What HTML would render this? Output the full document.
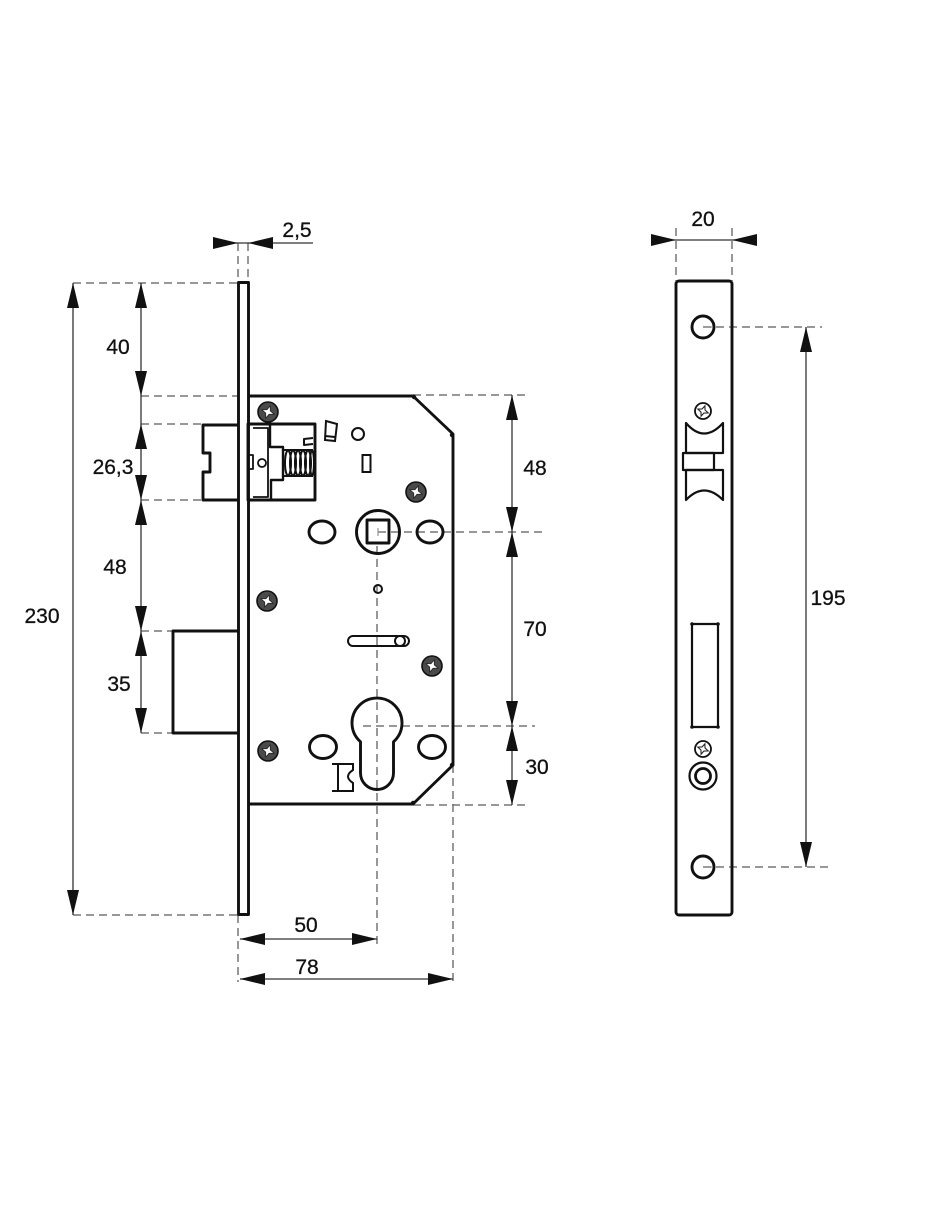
<!DOCTYPE html>
<html>
<head>
<meta charset="utf-8">
<style>
html,body{margin:0;padding:0;background:#fff;}
svg{display:block;}
text{font-family:"Liberation Sans","DejaVu Sans",sans-serif;font-size:21px;fill:#111;stroke:#111;stroke-width:0.3;}
</style>
</head>
<body>
<svg width="940" height="1214" viewBox="0 0 940 1214" xmlns="http://www.w3.org/2000/svg">
<defs>
  <g id="scr">
    <circle r="10" fill="#4a4a4a" stroke="#111" stroke-width="1.6"/>
    <path d="M0,-6.5 L1.8,-1.8 L6.5,0 L1.8,1.8 L0,6.5 L-1.8,1.8 L-6.5,0 L-1.8,-1.8 Z" fill="#fff" stroke="#222" stroke-width="0.8" transform="rotate(20)"/>
  </g>
  <g id="scr2">
    <circle r="8" fill="#fff" stroke="#111" stroke-width="1.8"/>
    <path d="M0,-5.5 L1.6,-1.6 L5.5,0 L1.6,1.6 L0,5.5 L-1.6,1.6 L-5.5,0 L-1.6,-1.6 Z" fill="#fff" stroke="#222" stroke-width="1.1" transform="rotate(20)"/>
  </g>
</defs>

<!-- dashed extension lines -->
<g stroke="#777" stroke-width="1.5" stroke-dasharray="8,5" fill="none">
  <line x1="73" y1="283" x2="238" y2="283"/>
  <line x1="141" y1="396" x2="238" y2="396"/>
  <line x1="141" y1="424" x2="203" y2="424"/>
  <line x1="141" y1="500" x2="203" y2="500"/>
  <line x1="141" y1="631" x2="173" y2="631"/>
  <line x1="141" y1="733" x2="173" y2="733"/>
  <line x1="73" y1="915" x2="238" y2="915"/>
  <line x1="238" y1="243" x2="238" y2="283"/>
  <line x1="248" y1="243" x2="248" y2="283"/>
  <line x1="238" y1="915" x2="238" y2="982"/>
  <line x1="413" y1="395" x2="527" y2="395"/>
  <line x1="378" y1="532" x2="543" y2="532"/>
  <line x1="363" y1="726" x2="535" y2="726"/>
  <line x1="413" y1="805" x2="527" y2="805"/>
  <line x1="377" y1="546" x2="377" y2="946"/>
  <line x1="453" y1="765" x2="453" y2="982"/>
  <line x1="676" y1="228" x2="676" y2="281"/>
  <line x1="732" y1="228" x2="732" y2="281"/>
  <line x1="703" y1="327" x2="822" y2="327"/>
  <line x1="703" y1="867" x2="830" y2="867"/>
</g>

<!-- dimension lines -->
<g stroke="#333" stroke-width="1.3" fill="none">
  <line x1="213" y1="243" x2="313" y2="243"/>
  <line x1="73" y1="283" x2="73" y2="915"/>
  <line x1="141" y1="283" x2="141" y2="733"/>
  <line x1="512" y1="395" x2="512" y2="805"/>
  <line x1="240" y1="939" x2="377" y2="939"/>
  <line x1="240" y1="979" x2="453" y2="979"/>
  <line x1="652" y1="240" x2="757" y2="240"/>
  <line x1="806" y1="327" x2="806" y2="867"/>
</g>

<!-- arrowheads -->
<g fill="#111">
  <polygon points="238,243 213,237 213,249"/>
  <polygon points="248,243 273,237 273,249"/>
  <polygon points="73,283 67,308 79,308"/>
  <polygon points="73,915 67,890 79,890"/>
  <polygon points="141,283 135,308 147,308"/>
  <polygon points="141,396 135,371 147,371"/>
  <polygon points="141,424 135,449 147,449"/>
  <polygon points="141,500 135,475 147,475"/>
  <polygon points="141,500 135,525 147,525"/>
  <polygon points="141,631 135,606 147,606"/>
  <polygon points="141,631 135,656 147,656"/>
  <polygon points="141,733 135,708 147,708"/>
  <polygon points="512,395 506,420 518,420"/>
  <polygon points="512,532 506,507 518,507"/>
  <polygon points="512,532 506,557 518,557"/>
  <polygon points="512,726 506,701 518,701"/>
  <polygon points="512,726 506,751 518,751"/>
  <polygon points="512,805 506,780 518,780"/>
  <polygon points="240,939 265,933 265,945"/>
  <polygon points="377,939 352,933 352,945"/>
  <polygon points="240,979 265,973 265,985"/>
  <polygon points="453,979 428,973 428,985"/>
  <polygon points="676,240 651,234 651,246"/>
  <polygon points="732,240 757,234 757,246"/>
  <polygon points="806,327 800,352 812,352"/>
  <polygon points="806,867 800,842 812,842"/>
</g>

<!-- labels -->
<g text-anchor="middle">
  <text x="297" y="237">2,5</text>
  <text x="703" y="226">20</text>
  <text x="118" y="354">40</text>
  <text x="113" y="474">26,3</text>
  <text x="115" y="574">48</text>
  <text x="42" y="623">230</text>
  <text x="119" y="691">35</text>
  <text x="535" y="475">48</text>
  <text x="535" y="636">70</text>
  <text x="537" y="774">30</text>
  <text x="828" y="605">195</text>
  <text x="306" y="932">50</text>
  <text x="307" y="974">78</text>
</g>

<!-- LEFT LOCK -->
<g stroke="#111" stroke-width="2.9" fill="none" stroke-linejoin="round">
  <rect x="238.5" y="282.5" width="10" height="632" fill="#fff"/>
  <path d="M248,396 L413,396 L453,434 L453,765 L413,804 L248,804"/>
  <path d="M238,631 L173,631 L173,733 L238,733"/>
  <path d="M238,425 L203,425 L203,453 L210,453 L210,472 L203,472 L203,500 L238,500"/>
  <rect x="248" y="424" width="67" height="76"/>
  <path d="M270,424 L270,447 L283,447 L283,480 L271,480 L271,500" stroke-width="2.4"/>
  <path d="M253,428 L268,428 L268,497 L253,497" stroke-width="1.8"/>
  <path d="M313,438 L304,439 L304,445 L313,444" stroke-width="2"/>
  <rect x="248" y="455" width="5" height="14" stroke-width="1.8"/>
  <circle cx="262" cy="463" r="4" stroke-width="1.8"/>
  <circle cx="378" cy="532" r="21.5"/>
  <rect x="367" y="520" width="22" height="23"/>
  <ellipse cx="322" cy="532" rx="13" ry="11"/>
  <ellipse cx="430" cy="532" rx="13" ry="11"/>
  <ellipse cx="323" cy="747" rx="13.5" ry="11.5"/>
  <ellipse cx="432" cy="747" rx="13.5" ry="11.5"/>
  <path d="M360.5,741.8 A25,25 0 1,1 393.5,741.8 L393.5,773 A16.5,16.5 0 0,1 360.5,773 Z"/>
</g>
<g stroke="#111" stroke-width="2" fill="none">
  <line x1="284" y1="450" x2="313" y2="450"/>
  <line x1="284" y1="476" x2="313" y2="476"/>
  <ellipse cx="288" cy="463" rx="3" ry="12.5"/>
  <ellipse cx="293" cy="463" rx="3" ry="12.5"/>
  <ellipse cx="298" cy="463" rx="3" ry="12.5"/>
  <ellipse cx="303" cy="463" rx="3" ry="12.5"/>
  <ellipse cx="308" cy="463" rx="3" ry="12.5"/>
  <ellipse cx="312" cy="463" rx="2" ry="12.5"/>
  <path d="M326,421 L337,424 L335,441 L325,440 Z"/>
  <line x1="325" y1="436" x2="335" y2="437"/>
  <circle cx="358" cy="434" r="6"/>
  <rect x="362.5" y="455" width="8" height="17"/>
  <circle cx="378" cy="589" r="4"/>
  <path d="M353,636 L404,636 A5,5 0 0,1 404,646 L353,646 A5,5 0 0,1 353,636 Z"/>
  <circle cx="400" cy="641" r="5"/>
  <path d="M332,764 L353,764 L353,770 Q343,776.5 353,783 L353,791 L332,791"/>
  <line x1="338" y1="764" x2="338" y2="791"/>
</g>
<g fill="#111">
  <circle cx="414" cy="397" r="2.2"/>
  <circle cx="452" cy="435" r="2.2"/>
  <circle cx="452" cy="765" r="2.2"/>
  <circle cx="413" cy="803" r="2.2"/>
</g>
<g stroke="#808080" stroke-width="1">
  <line x1="378" y1="528" x2="378" y2="536"/>
  <line x1="378" y1="532" x2="383" y2="532"/>
</g>
<use href="#scr" x="268" y="412"/>
<use href="#scr" x="416" y="492"/>
<use href="#scr" x="267" y="601"/>
<use href="#scr" x="432" y="666"/>
<use href="#scr" x="268" y="751"/>

<!-- RIGHT FACEPLATE -->
<g stroke="#111" stroke-width="2.9" fill="none" stroke-linejoin="round">
  <rect x="676" y="281" width="56" height="634" rx="3"/>
  <circle cx="703" cy="327" r="11"/>
  <circle cx="703" cy="867" r="11"/>
</g>
<g stroke="#111" stroke-width="2.2" fill="none" stroke-linejoin="round">
  <path d="M686,423 Q704,444 723,423 L723,453 L686,453 Z"/>
  <path d="M683,453 L714,453 L714,470 L683,470 Z"/>
  <path d="M686,470 L723,470 L723,500 Q704,481 686,500 Z"/>
  <path d="M692,624 L718,624 L718,727 L692,727 Z"/>
  <circle cx="703" cy="776" r="13.5"/>
  <circle cx="703" cy="776" r="7.5" stroke-width="2.8"/>
</g>
<g fill="#111">
  <circle cx="692" cy="624" r="1.8"/><circle cx="718" cy="624" r="1.8"/>
  <circle cx="692" cy="727" r="1.8"/><circle cx="718" cy="727" r="1.8"/>
</g>
<use href="#scr2" x="703" y="411"/>
<use href="#scr2" x="703" y="749"/>
<g stroke="#808080" stroke-width="1">
  <line x1="703" y1="327" x2="712" y2="327"/>
  <line x1="703" y1="867" x2="712" y2="867"/>
</g>
</svg>
</body>
</html>
